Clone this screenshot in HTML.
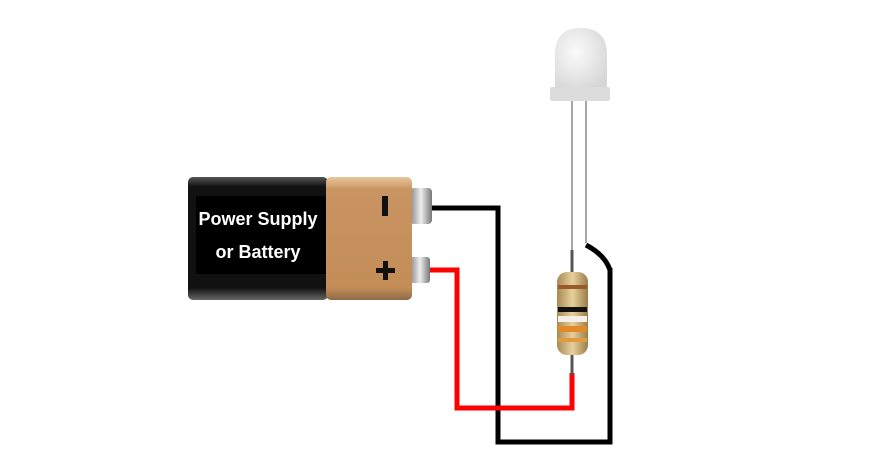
<!DOCTYPE html>
<html><head><style>body{margin:0;background:#fff}</style></head><body>
<svg width="880" height="463" viewBox="0 0 880 463" xmlns="http://www.w3.org/2000/svg">
<defs>
<linearGradient id="blk" x1="0" y1="0" x2="0" y2="1">
<stop offset="0" stop-color="#555"/><stop offset="0.08" stop-color="#111"/><stop offset="0.9" stop-color="#111"/><stop offset="1" stop-color="#666"/></linearGradient>
<linearGradient id="gold" x1="0" y1="0" x2="0" y2="1">
<stop offset="0" stop-color="#e9c79a"/><stop offset="0.1" stop-color="#c89462"/><stop offset="0.9" stop-color="#c48d58"/><stop offset="1" stop-color="#8e6a48"/></linearGradient>
<linearGradient id="term" x1="0" y1="0" x2="1" y2="0">
<stop offset="0" stop-color="#888"/><stop offset="0.5" stop-color="#eee"/><stop offset="1" stop-color="#777"/></linearGradient>
<linearGradient id="res" x1="0" y1="0" x2="1" y2="0">
<stop offset="0" stop-color="#a88a55"/><stop offset="0.5" stop-color="#e8d09c"/><stop offset="1" stop-color="#9a7c48"/></linearGradient>
<radialGradient id="led" cx="0.4" cy="0.4" r="0.7">
<stop offset="0" stop-color="#fafafa"/><stop offset="1" stop-color="#cfcfcf"/></radialGradient>
</defs>
<polyline points="425,208 498,208 498,442 610,442 610,268" fill="none" stroke="#000" stroke-width="5"/>
<path d="M610,270 Q605,255 586,245" fill="none" stroke="#000" stroke-width="5"/>
<polyline points="430,270 457,270 457,408 572,408 572,373" fill="none" stroke="#f00" stroke-width="5"/>
<rect x="410" y="188" width="22" height="36" rx="4" fill="url(#term)"/>
<rect x="410" y="257" width="20" height="26" rx="3" fill="url(#term)"/>
<rect x="188" y="177" width="140" height="123" rx="5" fill="url(#blk)"/>
<rect x="326" y="177" width="86" height="123" rx="5" fill="url(#gold)"/>
<rect x="196" y="196" width="130" height="78" fill="#000"/>
<text x="258" y="225" font-family="Liberation Sans, sans-serif" font-weight="bold" font-size="18" fill="#fff" text-anchor="middle">Power Supply</text>
<text x="258" y="258" font-family="Liberation Sans, sans-serif" font-weight="bold" font-size="18" fill="#fff" text-anchor="middle">or Battery</text>
<rect x="382" y="196" width="6" height="20" fill="#111"/>
<rect x="376" y="268" width="19" height="5" fill="#111"/>
<rect x="383" y="261" width="5" height="19" fill="#111"/>
<line x1="572" y1="100" x2="572" y2="273" stroke="#888" stroke-width="1.5"/>
<line x1="586" y1="100" x2="586" y2="243" stroke="#888" stroke-width="1.5"/>
<path d="M555,88 L555,55 Q555,28 581,28 Q607,28 607,55 L607,88 Z" fill="url(#led)" opacity="0.85"/>
<rect x="550" y="87" width="60" height="14" rx="2" fill="#dcdcdc"/>
<line x1="572" y1="250" x2="572" y2="375" stroke="#555" stroke-width="3"/>
<rect x="557" y="272" width="31" height="83" rx="10" fill="url(#res)"/>
<rect x="558" y="285" width="29" height="4" fill="#9a5a2a"/>
<rect x="558" y="307" width="29" height="5" fill="#111"/>
<rect x="558" y="316" width="29" height="6" fill="#f4f0e8"/>
<rect x="558" y="326" width="29" height="6" fill="#e08a2a"/>
<rect x="558" y="338" width="29" height="4" fill="#e09a40"/>
</svg>
</body></html>
